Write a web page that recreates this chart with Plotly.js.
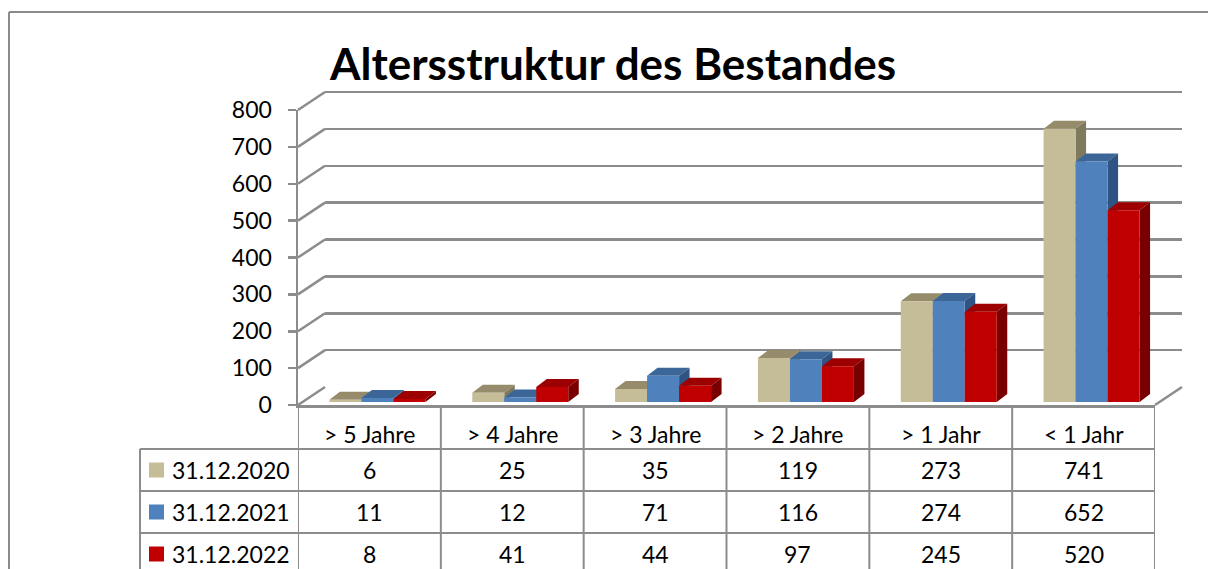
<!DOCTYPE html>
<html>
<head>
<meta charset="utf-8">
<script src="https://cdn.plot.ly/plotly-3.0.1.min.js"></script>
<style>html,body{margin:0;padding:0;background:#fff;}#chart{width:1208px;height:569px;}</style>
</head>
<body>
<div id="chart"></div>
<script>
// ---- data ----
const categories = ['> 5 Jahre', '> 4 Jahre', '> 3 Jahre', '> 2 Jahre', '> 1 Jahr', '< 1 Jahr'];
const seriesNames = ['31.12.2020', '31.12.2021', '31.12.2022'];
const values2020 = [6, 25, 35, 119, 273, 741];
const values2021 = [11, 12, 71, 116, 274, 652];
const values2022 = [8, 41, 44, 97, 245, 520];
const yTickValues = [0, 100, 200, 300, 400, 500, 600, 700, 800];
const chartTitle = 'Altersstruktur des Bestandes';

// ---- styling ----
const frontColors = ['#C4BD97', '#4F81BD', '#C00000'];
const topColors = ['#968C6C', '#3C6698', '#9C0000'];
const sideColors = ['#7F795D', '#2F5383', '#780000'];
const lineGray = '#8C8C8C';
const FONT = 'Lato, "Liberation Sans", sans-serif';

const W = 1208, H = 569;
const px = x => x / W;
const py = y => 1 - y / H;

// front axis geometry (pixels)
const F = {xl: 298, xr: 1155, y0: 405, yTop: 110};
// back wall
const B = {xl: 325, xr: 1182, y0: 387, yTop: 92};
// bar plane
const R = {xl: 306, xr: 1163, y0: 402, yTop: 107};
const YMAX = 800;
const YPAD = 10; // extra range on back wall so the top gridline is drawn

const catW = (R.xr - R.xl) / categories.length;
const unitPerPx = 1 / catW;
const barW = 32 * unitPerPx;
const depthDx = 10.5 * unitPerPx;
const depthDy = 8 * YMAX / (R.y0 - R.yTop);

const allValues = [values2020, values2021, values2022];
const idx = categories.map((c, i) => i);

const traces = [];
traces.push({type: 'scatter', x: [null], y: [null], xaxis: 'x', yaxis: 'y', showlegend: false, hoverinfo: 'skip'});
traces.push({type: 'scatter', x: [null], y: [null], xaxis: 'x2', yaxis: 'y2', showlegend: false, hoverinfo: 'skip'});

allValues.forEach((vals, k) => {
  traces.push({
    type: 'bar', name: seriesNames[k], x: idx, y: vals,
    xaxis: 'x3', yaxis: 'y3',
    width: barW, offset: -1.5 * barW + k * barW,
    marker: {color: frontColors[k], line: {width: 0}},
    showlegend: false, hoverinfo: 'x+y'
  });
});

const shapes = [];
idx.forEach(i => {
  allValues.forEach((vals, k) => {
    const v = vals[i];
    const x0 = i - 1.5 * barW + k * barW;
    const x1 = x0 + barW;
    shapes.push({type: 'path', xref: 'x3', yref: 'y3', layer: 'below',
      path: `M ${x0},${v} L ${x1},${v} L ${x1 + depthDx},${v + depthDy} L ${x0 + depthDx},${v + depthDy} Z`,
      fillcolor: topColors[k], line: {width: 0}});
    shapes.push({type: 'path', xref: 'x3', yref: 'y3', layer: 'below',
      path: `M ${x1},0 L ${x1},${v} L ${x1 + depthDx},${v + depthDy} L ${x1 + depthDx},${depthDy} Z`,
      fillcolor: sideColors[k], line: {width: 0}});
  });
});

const fy = v => F.y0 - (F.y0 - F.yTop) * v / YMAX;
const by = v => B.y0 - (B.y0 - B.yTop) * v / YMAX;
yTickValues.forEach(v => {
  shapes.push({type: 'line', xref: 'paper', yref: 'paper', layer: 'below',
    x0: px(F.xl), y0: py(fy(v)), x1: px(B.xl), y1: py(by(v)),
    line: {color: lineGray, width: 2.5}});
});
shapes.push({type: 'line', xref: 'paper', yref: 'paper', layer: 'below',
  x0: px(F.xr), y0: py(F.y0), x1: px(B.xr), y1: py(B.y0), line: {color: lineGray, width: 2.5}});

// table lines
const rowLines = [449, 491, 533];
const tableLeft = 140;
for (let i = 0; i <= categories.length; i++) {
  shapes.push({type: 'line', xref: 'x', yref: 'paper', x0: i - 0.5, x1: i - 0.5,
    y0: py(F.y0), y1: 0, line: {color: lineGray, width: 2}});
}
rowLines.forEach(y => {
  shapes.push({type: 'line', xref: 'paper', yref: 'paper', x0: px(tableLeft), x1: px(F.xr),
    y0: py(y), y1: py(y), line: {color: lineGray, width: 2}});
});
shapes.push({type: 'line', xref: 'paper', yref: 'paper', x0: px(tableLeft), x1: px(tableLeft),
  y0: py(rowLines[0]), y1: 0, line: {color: lineGray, width: 2}});
// outer border
shapes.push({type: 'line', xref: 'paper', yref: 'paper', x0: px(9), x1: px(9), y0: py(12), y1: 0, line: {color: lineGray, width: 2}});
shapes.push({type: 'line', xref: 'paper', yref: 'paper', x0: px(9), x1: 1, y0: py(12), y1: py(12), line: {color: lineGray, width: 2}});

// legend keys
const rowCenters = [470, 512, 554];
rowCenters.forEach((yc, k) => {
  shapes.push({type: 'rect', xref: 'paper', yref: 'paper', x0: px(149), x1: px(164),
    y0: py(yc + 7.5), y1: py(yc - 7.5), fillcolor: frontColors[k], line: {width: 0}});
});

const annotations = [];
const tfont = {family: FONT, size: 23, color: '#000'};
categories.forEach((c, i) => {
  annotations.push({xref: 'x', yref: 'paper', x: i, y: py(434), text: c, showarrow: false,
    xanchor: 'center', yanchor: 'middle', font: tfont});
  allValues.forEach((vals, k) => {
    annotations.push({xref: 'x', yref: 'paper', x: i, y: py(rowCenters[k]), text: String(vals[i]), showarrow: false,
      xanchor: 'center', yanchor: 'middle', font: tfont});
  });
});
seriesNames.forEach((s, k) => {
  annotations.push({xref: 'paper', yref: 'paper', x: px(170), y: py(rowCenters[k]), text: s, showarrow: false,
    xanchor: 'left', yanchor: 'middle', font: tfont});
});

const layout = {
  width: W, height: H,
  margin: {l: 0, r: 0, t: 0, b: 0},
  paper_bgcolor: '#fff', plot_bgcolor: 'rgba(0,0,0,0)',
  showlegend: false,
  title: {text: '<b>' + chartTitle + '</b>', x: 613 / W, xanchor: 'center', y: py(65), yanchor: 'middle',
    font: {family: FONT, size: 44, color: '#000'}},
  xaxis: {domain: [px(F.xl), px(F.xr)], range: [-0.5, 5.5], anchor: 'y',
    showline: true, linecolor: lineGray, linewidth: 2.5, showgrid: false, zeroline: false,
    showticklabels: false, ticks: '', fixedrange: true},
  yaxis: {domain: [py(F.y0), py(F.yTop)], range: [0, YMAX], anchor: 'x',
    tickvals: yTickValues, ticktext: yTickValues.map(String),
    showline: true, linecolor: lineGray, linewidth: 2.5, ticks: 'outside', ticklen: 8, tickwidth: 2.5, tickcolor: lineGray,
    ticklabelstandoff: 11,
    showgrid: false, zeroline: false, tickfont: {family: FONT, size: 23, color: '#000'}, fixedrange: true},
  xaxis2: {domain: [px(B.xl), px(B.xr)], range: [-0.5, 5.5], anchor: 'y2', visible: false, fixedrange: true},
  yaxis2: {domain: [py(B.y0), py(by(YMAX + YPAD))], range: [0, YMAX + YPAD], anchor: 'x2', tickvals: yTickValues,
    showgrid: true, gridcolor: lineGray, gridwidth: 2.5, zeroline: false, showline: false,
    showticklabels: false, ticks: '', fixedrange: true},
  xaxis3: {domain: [px(R.xl), px(R.xr)], range: [-0.5, 5.5], anchor: 'y3', visible: false, fixedrange: true},
  yaxis3: {domain: [py(R.y0), py(R.yTop)], range: [0, YMAX], anchor: 'x3', visible: false, fixedrange: true},
  barmode: 'overlay',
  shapes: shapes,
  annotations: annotations
};

Plotly.newPlot('chart', traces, layout, {displayModeBar: false, staticPlot: true});
</script>
</body>
</html>
